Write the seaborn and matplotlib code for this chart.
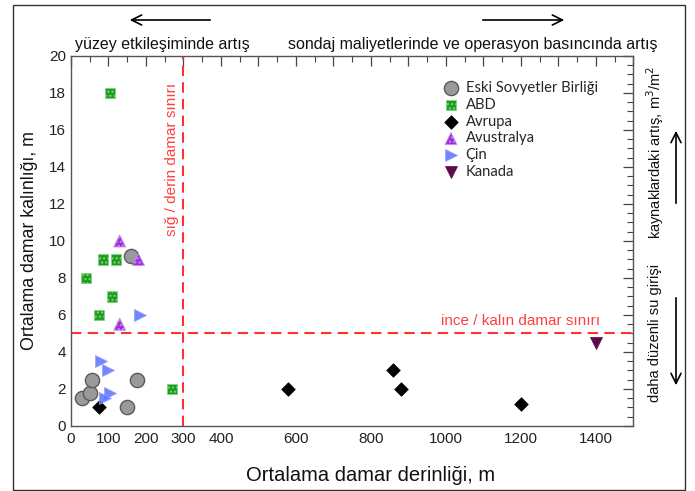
import matplotlib
matplotlib.use("Agg")
import matplotlib.pyplot as plt
import seaborn as sns
import pandas as pd
from matplotlib.ticker import MultipleLocator, FixedLocator, FixedFormatter
from matplotlib.patches import Rectangle

# ---- data ----
eski_x = [30, 50, 55, 160, 175, 150]
eski_y = [1.5, 1.8, 2.5, 9.2, 2.5, 1.0]
abd_x = [105, 85, 120, 40, 110, 75, 270]
abd_y = [18, 9, 9, 8, 7, 6, 2]
avrupa_x = [75, 580, 860, 880, 1200]
avrupa_y = [1.0, 2.0, 3.0, 2.0, 1.2]
avustralya_x = [130, 180, 130]
avustralya_y = [10, 9, 5.5]
cin_x = [185, 80, 100, 105, 90]
cin_y = [6, 3.5, 3, 1.8, 1.5]
kanada_x = [1400]
kanada_y = [4.5]

groups = ["Eski Sovyetler Birliği", "ABD", "Avrupa", "Avustralya", "Çin", "Kanada"]
xs = [eski_x, abd_x, avrupa_x, avustralya_x, cin_x, kanada_x]
ys = [eski_y, abd_y, avrupa_y, avustralya_y, cin_y, kanada_y]

xticks_major = [0, 100, 200, 300, 400, 500, 600, 700, 800, 900, 1000, 1100, 1200, 1300, 1400, 1500]
xtick_labels = ["0", "100", "200", "300", "400", "", "600", "", "800", "", "1000", "", "1200", "", "1400", ""]

rows = []
for g, gx, gy in zip(groups, xs, ys):
    for a, b in zip(gx, gy):
        rows.append({"grup": g, "derinlik": a, "kalinlik": b})
df = pd.DataFrame(rows)

styles = {
    "Eski Sovyetler Birliği": dict(marker="o", s=105, fc="#9a9a9a", ec="#5a5a5a", lw=1.0, hatch=None, alpha=1),
    "ABD": dict(marker="s", s=55, fc="#1f9a1f", ec="#7fd67f", lw=0.6, hatch="....", alpha=1),
    "Avrupa": dict(marker="D", s=48, fc="#000000", ec="#000000", lw=0.5, hatch=None, alpha=1),
    "Avustralya": dict(marker="^", s=75, fc="#9b30d9", ec="#c890f0", lw=0.6, hatch="....", alpha=1),
    "Çin": dict(marker=">", s=75, fc="#5a70ff", ec="#90a0ff", lw=0.6, hatch=None, alpha=0.85),
    "Kanada": dict(marker="v", s=75, fc="#5e0a4a", ec="#5e0a4a", lw=0.5, hatch=None, alpha=1),
}

sns.set_style("white")
plt.rcParams['font.family'] = ['Liberation Sans', 'DejaVu Sans']

fig = plt.figure(figsize=(6.95, 4.91), dpi=100)
ax = fig.add_axes([0.102, 0.1324, 0.8095, 0.7536])

for g in groups:
    st = styles[g]
    sub = df[df["grup"] == g]
    sns.scatterplot(data=sub, x="derinlik", y="kalinlik", ax=ax, marker=st["marker"], s=st["s"],
                    color=st["fc"], edgecolor=st["ec"], linewidth=st["lw"], hatch=st["hatch"],
                    alpha=st["alpha"], label=g, zorder=3)

ax.axvline(300, color="#ff3030", ls=(0, (5, 3)), lw=1.5, zorder=2)
ax.axhline(5, color="#ff3030", ls=(0, (5, 3)), lw=1.5, zorder=2)

ax.set_xlim(0, 1500)
ax.set_ylim(0, 20)
ax.xaxis.set_major_locator(FixedLocator(xticks_major))
ax.xaxis.set_major_formatter(FixedFormatter(xtick_labels))
ax.xaxis.set_minor_locator(MultipleLocator(50))
ax.yaxis.set_major_locator(MultipleLocator(2))
ax.yaxis.set_minor_locator(MultipleLocator(0.5))
ax.tick_params(which="both", direction="in", top=True, right=True, colors="#444444",
               labelcolor="#222222", labelsize=11)
ax.tick_params(which="major", length=7, width=0.9)
ax.tick_params(which="minor", length=4, width=0.8)
ax.tick_params(axis="x", pad=4)
for sp in ax.spines.values():
    sp.set_color("#555555")
    sp.set_linewidth(1.0)

ax.set_xlabel("Ortalama damar derinliği, m", fontsize=14.5, color="#111111")
ax.xaxis.set_label_coords(0.533, -0.108)
ax.set_ylabel("Ortalama damar kalınlığı, m", fontsize=12.8, labelpad=8, color="#111111")

ax.text(270, 14.4, "sığ / derin damar sınırı", rotation=90, ha="center", va="center",
        color="#ff4040", fontsize=11)
ax.text(1411, 5.7, "ince / kalın damar sınırı", ha="right", va="center",
        color="#ff4040", fontsize=11)

leg = ax.legend(loc="upper right", bbox_to_anchor=(0.955, 0.96), frameon=False,
                prop={"family": "Lato", "size": 10.6}, handletextpad=0.5, labelspacing=0.19,
                borderaxespad=0.3, handlelength=1.0)

# annotations around the axes (figure pixels)
W, H = 695, 491
def fp(x, y):
    return (x / W, 1 - y / H)

fig.text(*fp(75, 45), "yüzey etkileşiminde artış", fontsize=11.5, ha="left", va="center", color="#111111")
fig.text(*fp(657, 45), "sondaj maliyetlerinde ve operasyon basıncında artış", fontsize=11.5,
         ha="right", va="center", color="#111111")
ax.annotate("", xy=fp(127, 20), xytext=fp(213, 20), xycoords="figure fraction",
            arrowprops=dict(arrowstyle="->", lw=1.2, color="black", mutation_scale=18))
ax.annotate("", xy=fp(567, 20), xytext=fp(480, 20), xycoords="figure fraction",
            arrowprops=dict(arrowstyle="->", lw=1.2, color="black", mutation_scale=18))

fig.text(*fp(655, 152), "kaynaklardaki artış, m$^3$/m$^2$", rotation=90, fontsize=10.5,
         ha="center", va="center", color="#111111")
fig.text(*fp(655, 333), "daha düzenli su girişi", rotation=90, fontsize=10.5,
         ha="center", va="center", color="#111111")
ax.annotate("", xy=fp(676, 128), xytext=fp(676, 206), xycoords="figure fraction",
            arrowprops=dict(arrowstyle="->", lw=1.2, color="black", mutation_scale=18))
ax.annotate("", xy=fp(676, 388), xytext=fp(676, 295), xycoords="figure fraction",
            arrowprops=dict(arrowstyle="->", lw=1.2, color="black", mutation_scale=18))

fig.patches.append(Rectangle(fp(13, 490), (685 - 13) / W, (490 - 5) / H, transform=fig.transFigure,
                             fill=False, edgecolor="#333333", lw=1.0))

fig.savefig("out.png", dpi=100)
